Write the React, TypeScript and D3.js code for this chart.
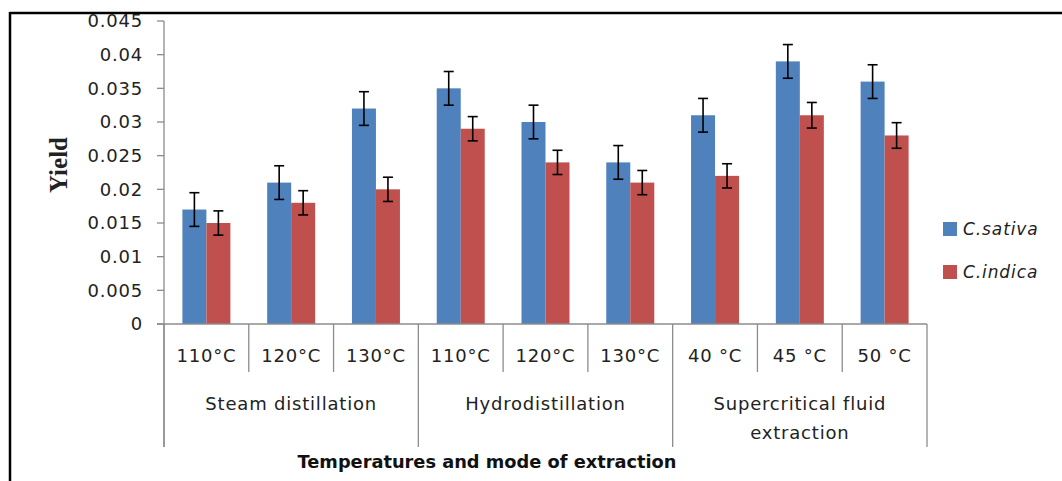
import React from "react";
import * as d3 from "d3";

const categories = ["110°C", "120°C", "130°C", "110°C", "120°C", "130°C", "40 °C", "45 °C", "50 °C"];
const groupNames = [["Steam distillation"], ["Hydrodistillation"], ["Supercritical fluid", "extraction"]];
const groupSizes = [3, 3, 3];
const seriesNames = ["C.sativa", "C.indica"];
const sativa = [0.017, 0.021, 0.032, 0.035, 0.030, 0.024, 0.031, 0.039, 0.036];
const indica = [0.015, 0.018, 0.020, 0.029, 0.024, 0.021, 0.022, 0.031, 0.028];
const sativaErr = [0.0025, 0.0025, 0.0025, 0.0025, 0.0025, 0.0025, 0.0025, 0.0025, 0.0025];
const indicaErr = [0.0018, 0.0018, 0.0018, 0.0018, 0.0018, 0.0018, 0.0018, 0.0019, 0.0019];
const yTicks = [0, 0.005, 0.01, 0.015, 0.02, 0.025, 0.03, 0.035, 0.04, 0.045];
const yTickLabels = ["0", "0.005", "0.01", "0.015", "0.02", "0.025", "0.03", "0.035", "0.04", "0.045"];
const colors = ["#4F81BD", "#C0504D"];

export default function App() {
  const W = 1062, H = 481;
  const x0 = 164, x1 = 927, yBase = 324, yTop = 21;
  const x = d3.scaleBand<number>().domain(d3.range(categories.length)).range([x0, x1]).paddingInner(0).paddingOuter(0);
  const y = d3.scaleLinear().domain([0, 0.045]).range([yBase, yTop]);
  const barW = 24;
  const inner = d3.scaleBand<number>().domain([0, 1]).range([-barW, barW]);
  const values = [sativa, indica];
  const errs = [sativaErr, indicaErr];
  const axisColor = "#8c8c8c";
  const font = "'DejaVu Sans', sans-serif";

  const bounds: number[] = [0];
  groupSizes.forEach((s) => bounds.push(bounds[bounds.length - 1] + s));

  return (
    <svg width={W} height={H} style={{ position: "absolute", left: 0, top: 0, background: "#fff" }}>
      <rect x={0} y={0} width={W} height={H} fill="#fff" />
      <line x1={10} y1={13} x2={W} y2={13} stroke="#000" strokeWidth={2.5} />
      <line x1={10} y1={12} x2={10} y2={H} stroke="#000" strokeWidth={2.5} />

      <line x1={x0} y1={yTop} x2={x0} y2={447} stroke={axisColor} strokeWidth={1.3} />
      {yTicks.map((t, i) => (
        <g key={i}>
          <line x1={x0 - 7} y1={y(t)} x2={x0} y2={y(t)} stroke={axisColor} strokeWidth={1.3} />
          <text x={x0 - 21} y={y(t)} dy="0.36em" textAnchor="end" fontFamily={font} fontSize={18} letterSpacing={0.8} fill="#222">
            {yTickLabels[i]}
          </text>
        </g>
      ))}

      {categories.map((c, i) => {
        const cx = (x(i) as number) + x.bandwidth() / 2;
        return (
          <g key={i}>
            {values.map((vals, s) => {
              const bx = cx + (inner(s) as number);
              return (
                <rect key={s} x={bx} y={y(vals[i])} width={inner.bandwidth()} height={yBase - y(vals[i])} fill={colors[s]} />
              );
            })}
            {values.map((vals, s) => {
              const ex = cx + (inner(s) as number) + inner.bandwidth() / 2;
              const hi = y(vals[i] + errs[s][i]);
              const lo = y(vals[i] - errs[s][i]);
              return (
                <g key={"e" + s} stroke="#000" strokeWidth={1.6}>
                  <line x1={ex} y1={hi} x2={ex} y2={lo} />
                  <line x1={ex - 5} y1={hi} x2={ex + 5} y2={hi} />
                  <line x1={ex - 5} y1={lo} x2={ex + 5} y2={lo} />
                </g>
              );
            })}
          </g>
        );
      })}

      <line x1={x0 - 7} y1={yBase} x2={x1} y2={yBase} stroke={axisColor} strokeWidth={1.3} />
      {d3.range(categories.length + 1).map((i) => {
        const xx = i < categories.length ? (x(i) as number) : x1;
        const isGroup = bounds.includes(i);
        return <line key={i} x1={xx} y1={yBase} x2={xx} y2={isGroup ? 447 : 372} stroke={axisColor} strokeWidth={1.3} />;
      })}
      {categories.map((c, i) => (
        <text key={i} x={(x(i) as number) + x.bandwidth() / 2} y={362} textAnchor="middle" fontFamily={font} fontSize={18} letterSpacing={0.8} fill="#222">
          {c}
        </text>
      ))}
      {groupNames.map((lines, g) => {
        const gx = ((x(bounds[g]) as number) + (bounds[g + 1] < categories.length ? (x(bounds[g + 1]) as number) : x1)) / 2;
        return lines.map((ln, k) => (
          <text key={g + "-" + k} x={gx} y={410 + k * 29} textAnchor="middle" fontFamily={font} fontSize={18} letterSpacing={0.8} fill="#222">
            {ln}
          </text>
        ));
      })}

      <text x={487} y={468} textAnchor="middle" fontFamily={font} fontWeight="bold" fontSize={17.8} fill="#111">
        Temperatures and mode of extraction
      </text>
      <text transform="translate(67,165) rotate(-90)" textAnchor="middle" fontFamily="'Liberation Serif', serif" fontWeight="bold" fontSize={25} fill="#222">
        Yield
      </text>

      {seriesNames.map((n, s) => (
        <g key={n} transform={`translate(943, ${222 + s * 43})`}>
          <rect x={0} y={0} width={14} height={14} fill={colors[s]} />
          <text x={20} y={7} dy="0.36em" fontFamily={font} fontStyle="italic" fontSize={17} letterSpacing={0.9} fill="#222">
            {n}
          </text>
        </g>
      ))}
    </svg>
  );
}
